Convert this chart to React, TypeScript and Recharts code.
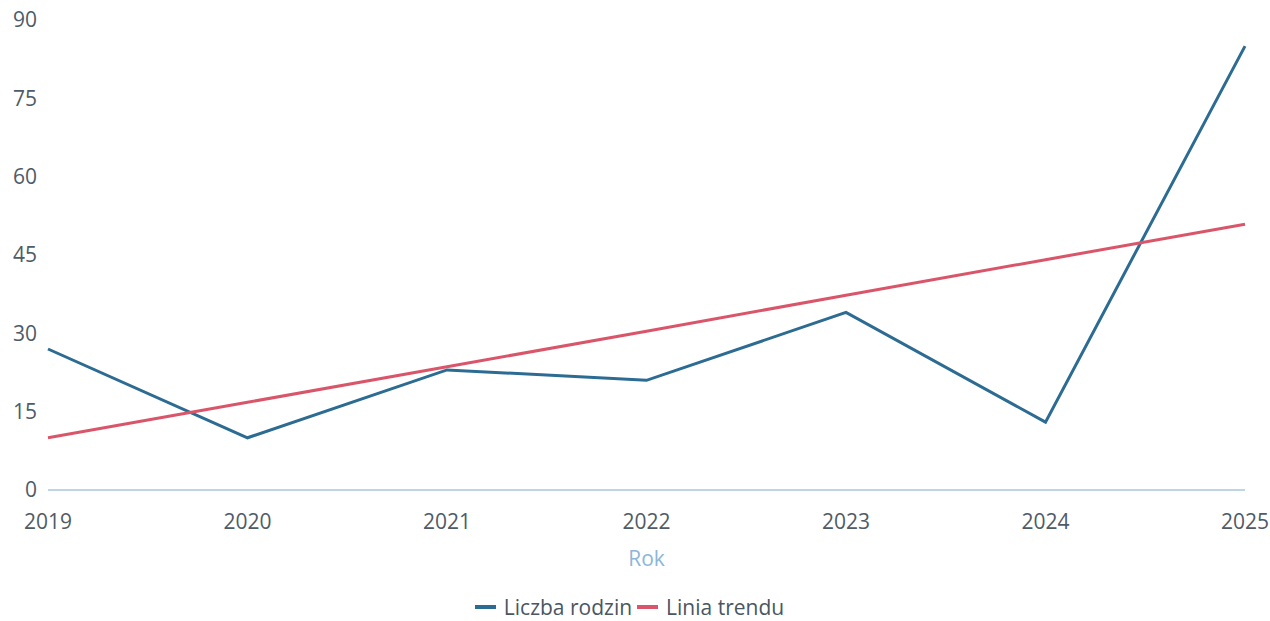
import React from 'react';
import { LineChart, Line, XAxis, YAxis, Legend } from 'recharts';

const years = ['2019', '2020', '2021', '2022', '2023', '2024', '2025'];
const familyCounts = [27, 10, 23, 21, 34, 13, 85];
const trendValues = [10, 16.8, 23.6, 30.4, 37.3, 44.1, 50.9];
const yTicks = [0, 15, 30, 45, 60, 75, 90];

const seriesNames = { count: 'Liczba rodzin', trend: 'Linia trendu' };
const colors = { count: '#2c6b92', trend: '#d9566a' };

const data = years.map((year, i) => ({
  year,
  count: familyCounts[i],
  trend: trendValues[i],
}));

const FONT = '"Open Sans", "Noto Sans", sans-serif';

const LegendContent = () => (
  <div
    style={{
      display: 'flex',
      justifyContent: 'center',
      alignItems: 'center',
      height: 28,
      paddingLeft: 19,
      boxSizing: 'border-box',
      fontFamily: FONT,
      fontSize: 21,
      color: '#4a5661',
      lineHeight: '28px',
    }}
  >
    {(['count', 'trend'] as const).map((k) => (
      <div key={k} style={{ display: 'flex', alignItems: 'center', marginRight: 5 }}>
        <span
          style={{
            display: 'inline-block',
            width: 21,
            height: 4,
            background: colors[k],
            marginRight: 8,
          }}
        />
        <span>{seriesNames[k]}</span>
      </div>
    ))}
  </div>
);

export default function App() {
  return (
    <div style={{ position: 'absolute', top: 0, left: 0, fontFamily: FONT }}>
      <LineChart
        width={1270}
        height={621}
        data={data}
        margin={{ top: 20, right: 25, left: 0, bottom: 0 }}
      >
        <XAxis
          dataKey="year"
          axisLine={{ stroke: '#bcd6e8', strokeWidth: 2 }}
          tickLine={false}
          tickSize={0}
          tickMargin={24}
          height={103}
          interval={0}
          tick={{ fill: '#4f5b66', fontSize: 21, fontFamily: FONT }}
          label={{
            value: 'Rok',
            position: 'insideBottom',
            offset: 27,
            fill: '#8cb6d9',
            fontSize: 21,
            fontFamily: FONT,
          }}
        />
        <YAxis
          domain={[0, 90]}
          ticks={yTicks}
          axisLine={false}
          tickLine={false}
          tickSize={0}
          tickMargin={11}
          width={48}
          tick={{ fill: '#4f5b66', fontSize: 21, fontFamily: FONT }}
        />
        <Legend verticalAlign="bottom" height={28} content={<LegendContent />} />
        <Line
          type="linear"
          dataKey="count"
          name={seriesNames.count}
          stroke={colors.count}
          strokeWidth={3}
          dot={false}
          activeDot={false}
          isAnimationActive={false}
        />
        <Line
          type="linear"
          dataKey="trend"
          name={seriesNames.trend}
          stroke={colors.trend}
          strokeWidth={3}
          dot={false}
          activeDot={false}
          isAnimationActive={false}
        />
      </LineChart>
    </div>
  );
}
